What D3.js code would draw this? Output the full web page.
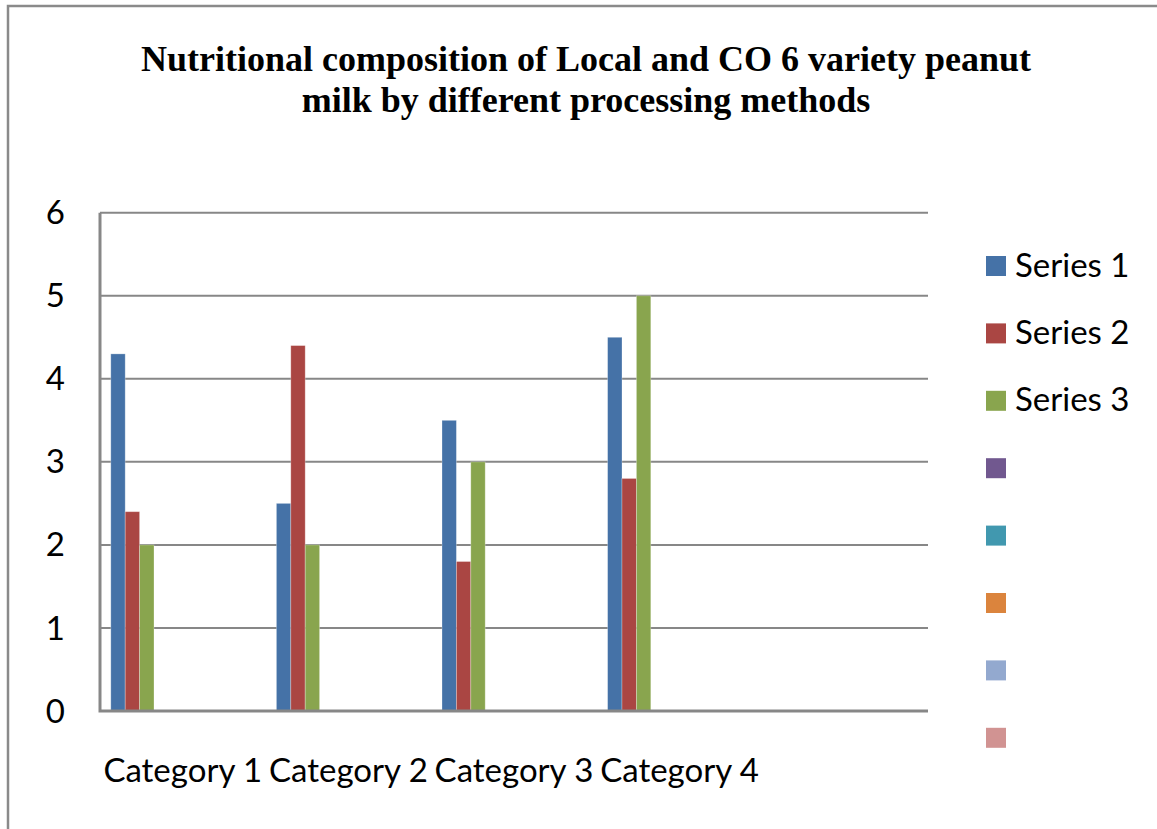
<!DOCTYPE html>
<html>
<head>
<meta charset="utf-8">
<script src="https://cdnjs.cloudflare.com/ajax/libs/d3/7.8.5/d3.min.js"></script>
<style>
  html, body { margin: 0; padding: 0; background: #fff; }
  #chart { width: 1157px; height: 829px; }
  .lbl { font-family: Lato, "Open Sans", sans-serif; fill: #000; }
</style>
</head>
<body>
<div id="chart"></div>
<script>

// data
var categories = ["Category 1", "Category 2", "Category 3", "Category 4", ""];
var seriesNames = ["Series 1", "Series 2", "Series 3", "", "", "", "", "", "", ""];
var series1 = [4.3, 2.5, 3.5, 4.5];
var series2 = [2.4, 4.4, 1.8, 2.8];
var series3 = [2.0, 2.0, 3.0, 5.0];
var yTicks = [0, 1, 2, 3, 4, 5, 6];
var colors = ["#4572A7", "#AA4643", "#89A54E", "#71588F", "#4198AF",
	"#DB843D", "#93A9CF", "#D19392", "#B9CD96", "#A99BBD"];
var legendShown = 8;

var titleLines = ["Nutritional composition of Local and CO 6 variety peanut",
	"milk by different processing methods"];

var width = 1157, height = 829;

var svg = d3.select("#chart").append("svg")
	.attr("width", width)
	.attr("height", height);

// outer chart border (runs off the right and bottom edge)
svg.append("path")
	.attr("d", "M8," + height + "V6H" + width)
	.attr("fill", "none").attr("stroke", "#8a8a8a").attr("stroke-width", 2.5);

// title
svg.append("text")
	.attr("x", 586).attr("y", 71)
	.attr("text-anchor", "middle")
	.style("font-family", "'Liberation Serif', 'Times New Roman', serif")
	.style("font-weight", "bold").style("font-size", "36px")
	.selectAll("tspan").data(titleLines).join("tspan")
	.attr("x", 586).attr("dy", function(d, i) { return i ? 41 : 0; })
	.text(function(d) { return d; });

var plotLeft = 100, plotRight = 928, plotTop = 212.7, plotBottom = 711;

var x = d3.scaleBand().domain(d3.range(categories.length)).range([plotLeft, plotRight]).padding(0);
// excel style cluster: gap width 150% split both sides
var xs = d3.scaleBand().domain(d3.range(seriesNames.length)).range([0, x.bandwidth()])
	.paddingInner(0).paddingOuter(0.75);
var y = d3.scaleLinear().domain([0, 6]).range([plotBottom, plotTop]);

// gridlines
svg.append("g").selectAll("line").data(yTicks.filter(function(d) { return d > 0; })).join("line")
	.attr("x1", plotLeft).attr("x2", plotRight)
	.attr("y1", function(d) { return y(d); }).attr("y2", function(d) { return y(d); })
	.attr("stroke", "#878787").attr("stroke-width", 2);

// y tick labels
svg.append("g").selectAll("text").data(yTicks).join("text")
	.attr("class", "lbl")
	.attr("x", 65).attr("y", function(d) { return y(d); })
	.attr("dy", "0.35em").attr("text-anchor", "end")
	.style("font-size", "33px")
	.text(function(d) { return d; });

// bars
var allSeries = [series1, series2, series3];
var groups = svg.append("g").selectAll("g").data(allSeries).join("g")
	.attr("fill", function(d, i) { return colors[i]; });
groups.each(function(vals, si) {
	d3.select(this).selectAll("rect").data(vals).join("rect")
		.attr("x", function(d, ci) { return x(ci) + xs(si); })
		.attr("width", xs.bandwidth())
		.attr("y", function(d) { return y(d); })
		.attr("height", function(d) { return y(0) - y(d); })
		.attr("stroke", "rgba(255,255,255,0.35)").attr("stroke-width", 0.8);
});

// axes lines
svg.append("path")
	.attr("d", "M" + plotLeft + "," + plotTop + "V" + plotBottom + "H" + plotRight)
	.attr("fill", "none").attr("stroke", "#878787").attr("stroke-width", 3);

// category labels
svg.append("g").selectAll("text").data(categories).join("text")
	.attr("class", "lbl")
	.attr("x", function(d, i) { return x(i) + x.bandwidth() / 2; })
	.attr("y", 782).attr("text-anchor", "middle")
	.style("font-size", "33px")
	.text(function(d) { return d; });

// legend
var leg = svg.append("g").selectAll("g").data(seriesNames.slice(0, legendShown)).join("g")
	.attr("transform", function(d, i) { return "translate(986," + (256 + i * 67.4) + ")"; });
leg.append("rect").attr("width", 20).attr("height", 20)
	.attr("fill", function(d, i) { return colors[i]; });
leg.append("text").attr("class", "lbl")
	.attr("x", 29).attr("y", 20.5)
	.style("font-size", "33px")
	.text(function(d) { return d; });

</script>
</body>
</html>
